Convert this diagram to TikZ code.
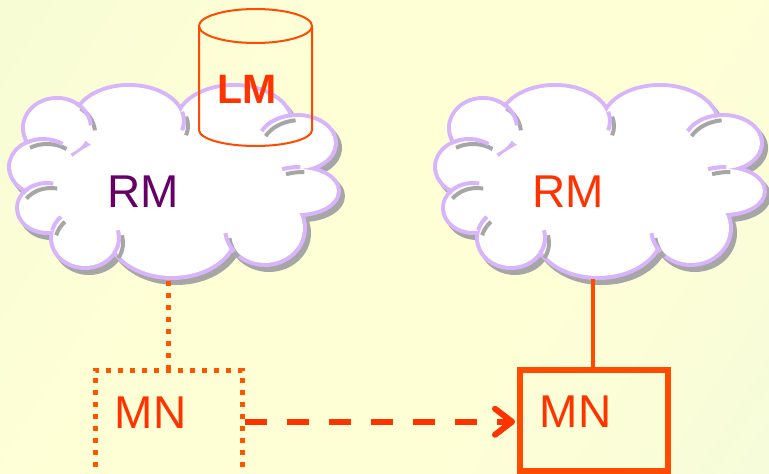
\documentclass[tikz,border=0pt]{standalone}
\usepackage{fontspec}
\setmainfont{Liberation Sans}
\usetikzlibrary{arrows.meta}

\definecolor{bgA}{HTML}{F1FAD4}
\definecolor{bgB}{HTML}{FFFFD6}
\definecolor{bgC}{HTML}{EFF9DB}
\definecolor{cloudline}{HTML}{D8B4FA}
\definecolor{cloudshadow}{HTML}{A6A6A6}
\definecolor{plum}{HTML}{660066}
\definecolor{vermilion}{HTML}{FF3300}
\definecolor{flame}{HTML}{FF4A00}
\definecolor{tangerine}{HTML}{FF5500}

\pgfdeclarehorizontalshading{bgwash}{100bp}{color(0bp)=(bgA); color(38bp)=(bgB);
  color(62bp)=(bgB); color(100bp)=(bgC)}

% one puff of a cloud: centre, radii, radius change
\newcommand\puff[5]{(#1,#2) ellipse[x radius={#3+(#5)}, y radius={#4+(#5)}]}
% the puffs that make up a cloud (local box about 332 x 195)
\newcommand\cloudpuffs[1]{%
  \puff{48}{45}{34}{30}{#1}
  \puff{120}{38}{55}{36}{#1}
  \puff{225}{40}{58}{38}{#1}
  \puff{288}{60}{39}{28}{#1}
  \puff{290}{108}{40}{24}{#1}
  \puff{256}{145}{40}{37}{#1}
  \puff{163}{148}{65}{47}{#1}
  \puff{76}{155}{34}{30}{#1}
  \puff{38}{125}{30}{25}{#1}
  \puff{34}{84}{34}{28}{#1}}
% a crease: part of a puff outline running into the cloud
\newcommand\crease[6]{([shift={(#5:#3 and #4)}]#1,#2)
  arc[start angle=#5, end angle=#6, x radius=#3, y radius=#4]}
\newcommand\cloudcreases{%
  \crease{34}{84}{34}{28}{240}{305}
  \crease{38}{125}{30}{25}{215}{282}
  \crease{76}{155}{34}{30}{195}{225}
  \crease{76}{155}{34}{30}{-15}{30}
  \crease{256}{145}{40}{37}{140}{172}
  \crease{288}{60}{39}{28}{205}{262}
  \crease{290}{108}{40}{24}{245}{272}
  \crease{120}{38}{55}{36}{345}{375}
  \crease{48}{45}{34}{30}{305}{355}}

% #1,#2: top-left corner of the cloud
\newcommand\drawcloud[2]{%
  \begin{scope}[shift={(#1+4,#2+5)}]
    \fill[cloudshadow] \cloudpuffs{2};
  \end{scope}
  \begin{scope}[shift={(#1,#2)}]
    \draw[cloudline, line width=4pt] \cloudpuffs{0};
    \fill[white] \cloudpuffs{-2} (165,100) ellipse[x radius=115, y radius=55];
  \end{scope}
  \begin{scope}[shift={(#1+4,#2+5)}]
    \draw[cloudshadow, line width=4pt] \cloudcreases;
  \end{scope}
  \begin{scope}[shift={(#1,#2)}]
    \draw[cloudline, line width=4pt] \cloudcreases;
  \end{scope}}

\tikzset{
  bigtext/.style={font=\fontsize{46}{48}\selectfont, anchor=base, inner sep=0pt},
  dotline/.style={tangerine, line width=5pt, dash pattern=on 5pt off 7pt},
  mnbox/.style={rectangle, inner sep=0pt},
  cyl/.style={flame, line width=2pt},
  movearrow/.style={vermilion, line width=6pt, dash pattern=on 22pt off 20pt,
    -{Straight Barb[length=17pt, width=26pt, round]}, shorten >=2pt},
}

\begin{document}
\begin{tikzpicture}[x=1pt, y=-1pt]
  % background
  \shade[shading=bgwash, shading angle=-32] (0,0) rectangle (769,474);
  \useasboundingbox (0,0) rectangle (769,474);

  % the two clouds
  \drawcloud{9}{83}
  \drawcloud{435}{83}

  \node[bigtext, plum] (rmL) at (143.5,207) {RM};
  \node[bigtext, vermilion] (rmR) at (568.5,207) {RM};

  \coordinate (cloudL-bottom) at (168,281);
  \coordinate (cloudR-bottom) at (593,279);

  % the database drum
  \draw[cyl] (255.5,26) ellipse [x radius=56.5, y radius=17];
  \draw[cyl] (199,26) -- (199,130)
    arc[start angle=180, end angle=0, x radius=56.5, y radius=16] -- (312,26);
  \node[font=\fontsize{41}{43}\selectfont\bfseries, text=vermilion, anchor=base, inner sep=0pt]
    (lm) at (247.5,103.5) {LM};

  % mobile node boxes
  \node[mnbox, draw=tangerine, line width=5pt, dash pattern=on 5pt off 7pt,
    minimum width=147pt, minimum height=106pt] (mnL) at (168.5,423) {};
  \node[mnbox, draw=flame, line width=6pt,
    minimum width=148pt, minimum height=101.5pt] (mnR) at (594,420.25) {};

  \node[bigtext, vermilion] (mnLtext) at (150.5,428) {MN};
  \node[bigtext, vermilion] (mnRtext) at (575.5,427) {MN};

  % connectors
  \draw[dotline] (cloudL-bottom) -- (cloudL-bottom |- mnL.north);
  \draw[flame, line width=4.5pt] (cloudR-bottom) -- (cloudR-bottom |- mnR.north);
  \draw[movearrow] (mnL.east |- mnR.west) ++(0,1.5) coordinate (arrowstart)
    (arrowstart) -- (arrowstart -| mnR.west);
\end{tikzpicture}
\end{document}
